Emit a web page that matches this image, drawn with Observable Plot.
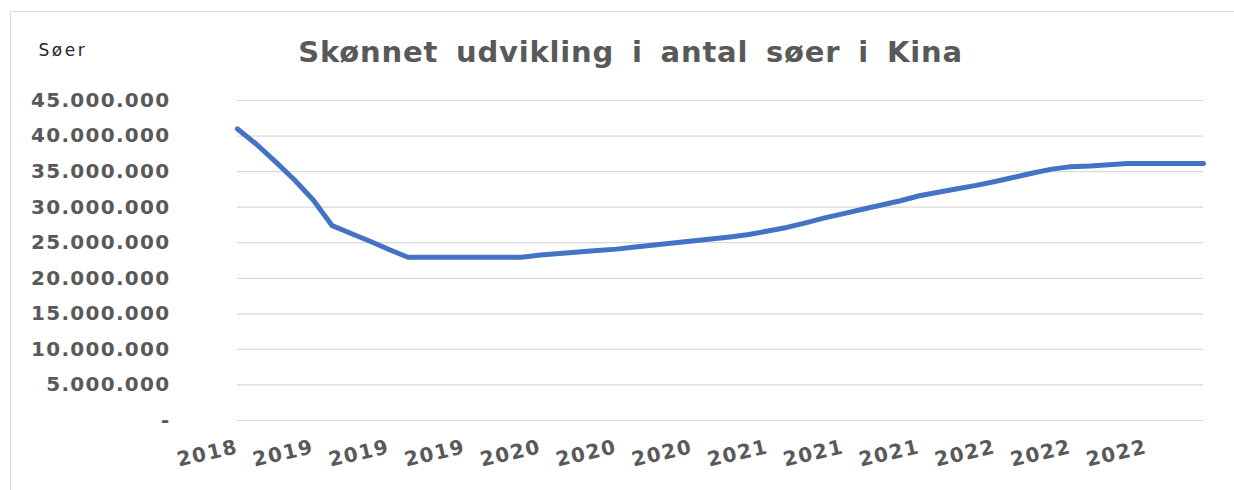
<!DOCTYPE html>
<html>
<head>
<meta charset="utf-8">
<script src="https://cdn.jsdelivr.net/npm/d3@7"></script>
<script src="https://cdn.jsdelivr.net/npm/@observablehq/plot@0.6"></script>
<style>
  html, body { margin: 0; padding: 0; background: #fff; }
  #wrap { position: relative; width: 1234px; height: 490px; }
  #border { position: absolute; left: 10px; top: 11px; right: 0; bottom: 0;
            border-top: 1.5px solid #d9d9d9; border-left: 1.5px solid #d9d9d9; pointer-events: none; }
</style>
</head>
<body>
<div id="wrap"><div id="border"></div></div>
<script>
const title = "Skønnet udvikling i antal søer i Kina";
const yAxisTitle = "Søer";

const months = [
  "2018-09","2018-10","2018-11","2018-12",
  "2019-01","2019-02","2019-03","2019-04","2019-05","2019-06","2019-07","2019-08","2019-09","2019-10","2019-11","2019-12",
  "2020-01","2020-02","2020-03","2020-04","2020-05","2020-06","2020-07","2020-08","2020-09","2020-10","2020-11","2020-12",
  "2021-01","2021-02","2021-03","2021-04","2021-05","2021-06","2021-07","2021-08","2021-09","2021-10","2021-11","2021-12",
  "2022-01","2022-02","2022-03","2022-04","2022-05","2022-06","2022-07","2022-08","2022-09","2022-10","2022-11","2022-12"
];

const sows = [
  41000000, 38850000, 36400000, 33850000,
  31000000, 27400000, 26300000, 25200000, 24050000, 22950000, 22950000, 22950000, 22950000, 22950000, 22950000, 22950000,
  23270000, 23480000, 23700000, 23900000, 24100000, 24390000, 24670000, 24960000, 25240000, 25530000, 25820000, 26150000,
  26650000, 27150000, 27800000, 28500000, 29100000, 29700000, 30300000, 30900000, 31600000, 32100000, 32600000, 33060000,
  33600000, 34200000, 34800000, 35350000, 35700000, 35800000, 35970000, 36150000, 36150000, 36150000, 36150000, 36150000
];

const yTicks = [0, 5000000, 10000000, 15000000, 20000000, 25000000, 30000000, 35000000, 40000000, 45000000];
const xTickMonths = ["2018-09","2019-01","2019-05","2019-09","2020-01","2020-05","2020-09","2021-01","2021-05","2021-09","2022-01","2022-05","2022-09"];
const xTickLabels = ["2018","2019","2019","2019","2020","2020","2020","2021","2021","2021","2022","2022","2022"];

const data = months.map((m, i) => ({month: m, value: sows[i]}));
const labelOf = new Map(xTickMonths.map((m, i) => [m, xTickLabels[i]]));
const fmt = d3.formatLocale({decimal: ",", thousands: ".", grouping: [3], currency: ["", ""]}).format(",");

const chart = Plot.plot({
  width: 1234,
  height: 490,
  marginTop: 100,
  marginLeft: 237,
  marginRight: 31,
  marginBottom: 70,
  style: {fontFamily: "DejaVu Sans", background: "transparent", overflow: "visible"},
  x: {type: "point", domain: months, padding: 0, label: null},
  y: {domain: [0, 45000000], label: null},
  marks: [
    Plot.gridY(yTicks, {stroke: "#d9d9d9", strokeOpacity: 1, strokeWidth: 1.2}),
    Plot.axisY(yTicks, {tickSize: 0, tickPadding: 67, tickFormat: v => v === 0 ? "-" : fmt(v),
      fontSize: 20, fontWeight: "bold", fill: "#595959", label: null}),
    Plot.axisX(xTickMonths, {tickSize: 0, tickPadding: 26, tickRotate: -13, tickFormat: d => labelOf.get(d),
      fontSize: 20, fontWeight: "bold", fill: "#595959", label: null}),
    Plot.line(data, {x: "month", y: "value", stroke: "#4472C4", strokeWidth: 5, strokeLinejoin: "round", strokeLinecap: "round"}),
    Plot.text([title], {frameAnchor: "top", dx: -90, dy: -48, fontSize: 29, fontWeight: "bold", fill: "#595959", lineAnchor: "middle"}),
    Plot.text([yAxisTitle], {frameAnchor: "top-left", dx: -199, dy: -50, fontSize: 17, fill: "#262626", textAnchor: "start", lineAnchor: "middle"})
  ]
});

const svg = d3.select(chart);
svg.selectAll('g[aria-label="y-axis tick label"] text').style("letter-spacing", "1.3px");
svg.selectAll('g[aria-label="x-axis tick label"] text').style("letter-spacing", "1.5px");
svg.selectAll('g[aria-label="text"] text').each(function() {
  const t = d3.select(this);
  if (t.text() === title) t.style("letter-spacing", "0.8px").style("word-spacing", "7px");
  else t.style("letter-spacing", "2.5px");
});
document.getElementById("wrap").prepend(chart);
</script>
</body>
</html>
